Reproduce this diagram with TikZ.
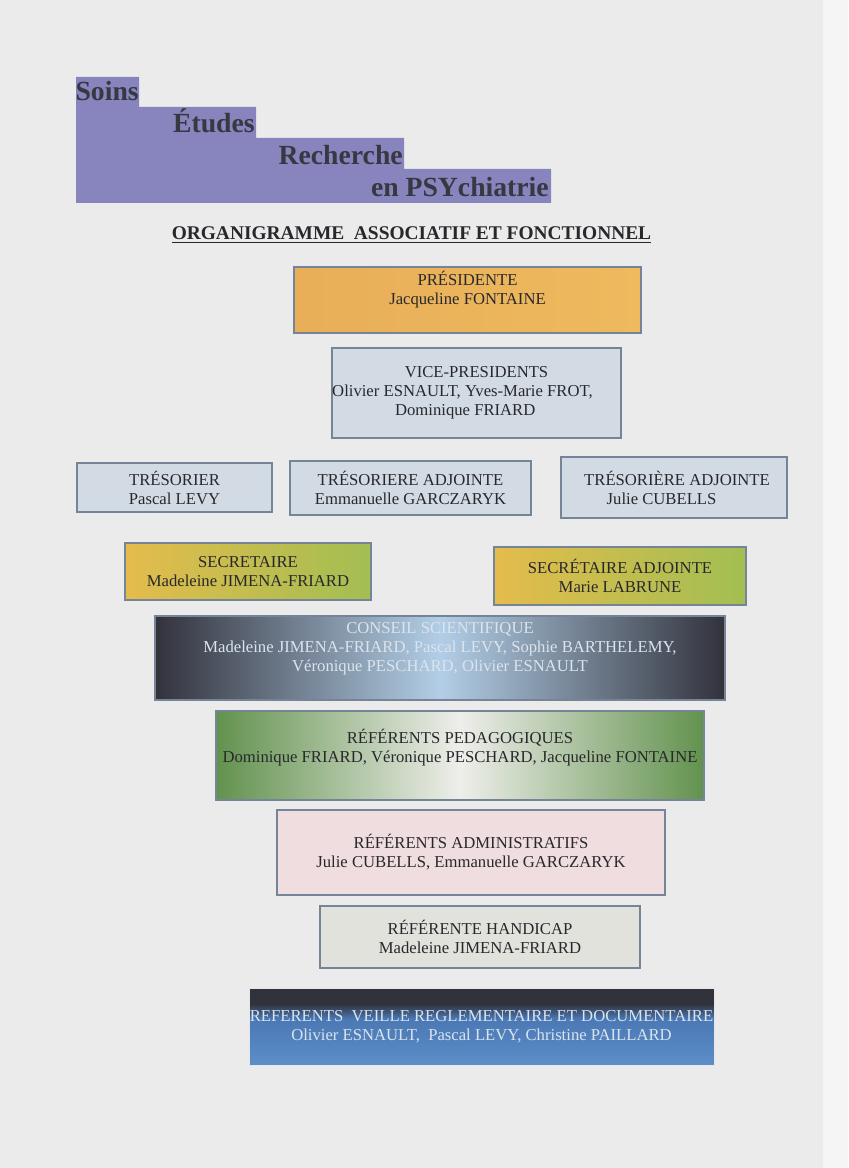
\documentclass[tikz,border=0pt]{standalone}
\usepackage{fontspec}
\setmainfont{Liberation Serif}
\definecolor{pagegray}{RGB}{235,235,235}
\definecolor{stripgray}{RGB}{245,245,245}
\definecolor{headpurple}{RGB}{136,132,190}
\definecolor{headink}{RGB}{56,56,66}
\definecolor{ink}{RGB}{40,40,44}
\definecolor{framegray}{RGB}{118,132,152}
\definecolor{presorange}{RGB}{238,186,94}
\definecolor{presorangedark}{RGB}{232,174,88}
\definecolor{paleblue}{RGB}{210,219,227}
\definecolor{secyellow}{RGB}{228,188,76}
\definecolor{secgreen}{RGB}{162,190,82}
\definecolor{darkslate}{RGB}{50,50,60}
\definecolor{skyblue}{RGB}{178,206,230}
\definecolor{leafgreen}{RGB}{98,146,78}
\definecolor{greywhite}{RGB}{238,238,234}
\definecolor{palepink}{RGB}{240,221,223}
\definecolor{paleputty}{RGB}{226,226,220}
\definecolor{steelblue}{RGB}{74,120,180}
\definecolor{lightsteel}{RGB}{92,142,200}
\definecolor{lightink}{RGB}{218,228,238}

\tikzset{
  boxline/.style={draw=framegray,line width=0.9pt},
  boxtext/.style={align=center,text=ink,inner sep=0pt,
                  font=\fontsize{11.85}{13.5}\selectfont},
  headtext/.style={anchor=base east,text=headink,inner sep=0pt,
                   font=\fontsize{19.7}{22}\selectfont\bfseries}
}

\begin{document}
\begin{tikzpicture}[x=0.025cm,y=-0.025cm]
\useasboundingbox (0,0) rectangle (848,1168);

% scanned page
\fill [pagegray] (0,0) rectangle (848,1168);
\fill [stripgray] (823,0) rectangle (848,1168);

% stepped header
\fill [headpurple] (76,77) -| (139,107) -| (256,138) -| (404,169) -| (551,203)
      -- (76,203) -- cycle;
\node [headtext] (soins) at (139,101) {Soins};
\node [headtext] (etudes) at (255,133) {Études};
\node [headtext] (recherche) at (403,165) {Recherche};
\node [headtext] (psy) at (549,197) {en PSYchiatrie};

\node [anchor=base,inner sep=0pt,text=ink,font=\fontsize{13.8}{16}\selectfont\bfseries]
      (title) at (411.5,240) {\underline{ORGANIGRAMME\ \ ASSOCIATIF ET FONCTIONNEL}};

% bureau
\shadedraw [boxline,left color=presorangedark,right color=presorange] (294,267) rectangle (641,333);
\node [boxtext] (pres) at (467.5,290) {PRÉSIDENTE\\Jacqueline FONTAINE};

\filldraw [boxline,fill=paleblue] (332,348) rectangle (621,438);
\node [boxtext] (vice) at (476.5,393)
      {VICE-PRESIDENTS\\Olivier ESNAULT, Yves-Marie FROT,\hbox to 20pt{}\\Dominique FRIARD\hbox to 16pt{}};

\filldraw [boxline,fill=paleblue] (77,463) rectangle (272,512);
\node [boxtext] (tres) at (174.5,487.5) {TRÉSORIER\\Pascal LEVY};

\filldraw [boxline,fill=paleblue] (290,461) rectangle (531,515);
\node [boxtext] (tresadj) at (410.5,487.5) {TRÉSORIERE ADJOINTE\\Emmanuelle GARCZARYK};

\filldraw [boxline,fill=paleblue] (561,457) rectangle (787,518);
\node [boxtext] (tresadjb) at (677,487.5) {TRÉSORIÈRE ADJOINTE\\Julie CUBELLS\hbox to 22pt{}};

\shadedraw [boxline,left color=secyellow,right color=secgreen] (125,543) rectangle (371,600);
\node [boxtext] (sec) at (248,571.5) {SECRETAIRE\\Madeleine JIMENA-FRIARD};

\shadedraw [boxline,left color=secyellow,right color=secgreen] (494,547) rectangle (746,605);
\node [boxtext] (secadj) at (620,576) {SECRÉTAIRE ADJOINTE\\Marie LABRUNE};

% referents
\shadedraw [boxline,left color=darkslate,right color=darkslate,middle color=skyblue]
      (155,616) rectangle (725,700);
\node [boxtext,text=lightink] (conseil) at (440,649)
      {CONSEIL SCIENTIFIQUE\\Madeleine JIMENA-FRIARD, Pascal LEVY, Sophie BARTHELEMY,\\Véronique PESCHARD, Olivier ESNAULT};

\shadedraw [boxline,left color=leafgreen,right color=leafgreen,middle color=greywhite]
      (216,711) rectangle (704,800);
\node [boxtext] (pedago) at (460,747.5)
      {RÉFÉRENTS PEDAGOGIQUES\\Dominique FRIARD, Véronique PESCHARD, Jacqueline FONTAINE};

\filldraw [boxline,fill=palepink] (277,810) rectangle (665,895);
\node [boxtext] (admin) at (471,852.5)
      {RÉFÉRENTS ADMINISTRATIFS\\Julie CUBELLS, Emmanuelle GARCZARYK};

\filldraw [boxline,fill=paleputty] (320,906) rectangle (640,968);
\node [boxtext] (handicap) at (480,937) {RÉFÉRENTE HANDICAP\\Madeleine JIMENA-FRIARD};

% veille: dark band on top, blue below
\shade [top color=steelblue,bottom color=lightsteel] (249,1018) rectangle (714,1065);
\shade [top color=darkslate,bottom color=steelblue] (249,1004) rectangle (714,1018.5);
\fill [darkslate] (249,988) rectangle (714,1004.5);
\draw [white!80!framegray,line width=0.6pt] (249,988) rectangle (714,1065);
\node [boxtext,text=lightink] (veille) at (481.5,1026.5)
      {REFERENTS\ \ VEILLE REGLEMENTAIRE ET DOCUMENTAIRE\\Olivier ESNAULT,\ \ Pascal LEVY, Christine PAILLARD};

\end{tikzpicture}
\end{document}
